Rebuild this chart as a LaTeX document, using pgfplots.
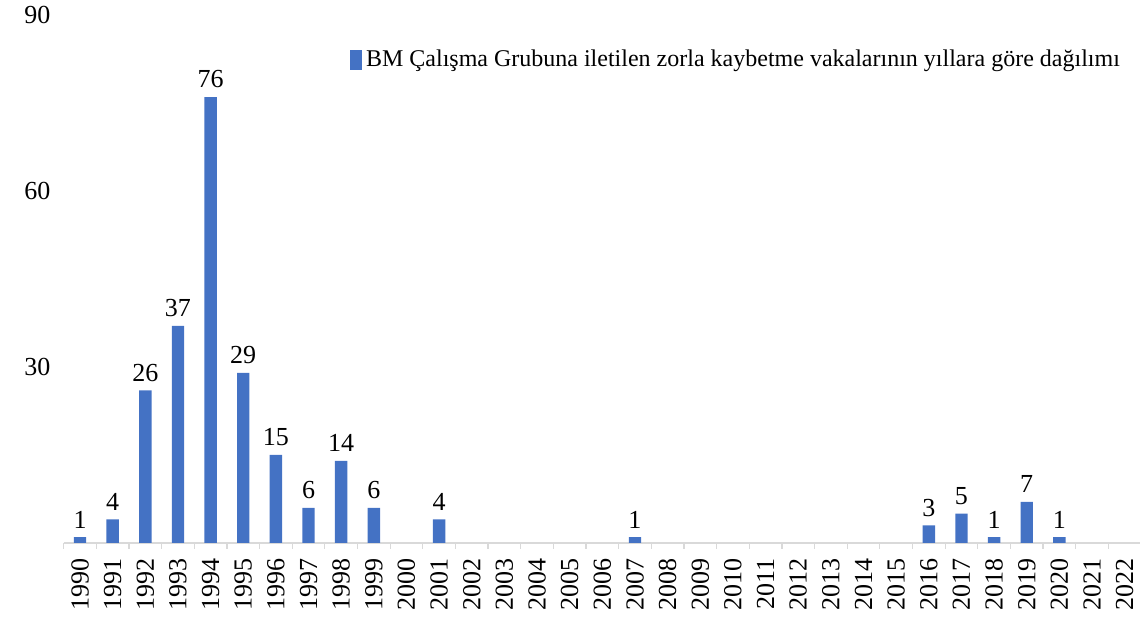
\documentclass[border=0pt]{standalone}
\usepackage{pgfplots}
\pgfplotsset{compat=1.18}
\usepackage{fontspec}
\setmainfont{Liberation Serif}
\definecolor{barblue}{HTML}{4472C4}
\definecolor{gridgray}{HTML}{EBEBEB}
\definecolor{axisgray}{HTML}{D9D9D9}
\begin{document}
\begin{tikzpicture}
\begin{axis}[
  at={(0,0)}, anchor=south west,
  scale only axis, width=538.7pt, height=264pt,
  xmin=-0.5, xmax=32.5, ymin=0, ymax=90,
  axis line style={draw=none},
  axis x line*=bottom, axis y line=none,
  ytick={30,60,90},
  ymajorgrids, grid style={gridgray, line width=0.6pt},
  xtick={0,...,32},
  xticklabels={1990,1991,1992,1993,1994,1995,1996,1997,1998,1999,2000,2001,2002,2003,2004,2005,2006,2007,2008,2009,2010,2011,2012,2013,2014,2015,2016,2017,2018,2019,2020,2021,2022},
  x tick label style={rotate=90, anchor=east, font=\fontsize{13}{13}\selectfont, xshift=-4pt},
  minor xtick={-0.5,0.5,...,32.5},
  major tick length=0pt, minor tick length=3pt, tick align=outside,
  minor tick style={axisgray, line width=0.6pt},
  every tick label/.append style={black},
  /pgf/number format/assume math mode=true,
  clip=false,
  legend style={draw=none, fill=none, at={(0.990,0.915)}, anchor=east, font=\fontsize{12}{12}\selectfont},
  legend image code/.code={\fill[barblue] (0.5pt,-5pt) rectangle (6.5pt,5pt);},
]
\draw[axisgray, line width=0.8pt] (axis cs:-0.5,0) -- (axis cs:32.5,0);
\addplot[ybar, bar width=6.2pt, fill=barblue, draw=none,
  nodes near coords, every node near coord/.append style={font=\fontsize{13}{13}\selectfont, black, yshift=1pt}]
coordinates {
(0,1) (1,4) (2,26) (3,37) (4,76) (5,29) (6,15) (7,6) (8,14) (9,6) (11,4) (17,1) (26,3) (27,5) (28,1) (29,7) (30,1)
};
\addlegendentry{BM Çalışma Grubuna iletilen zorla kaybetme vakalarının yıllara göre dağılımı}
\end{axis}
\foreach \v/\y in {30/88, 60/176, 90/264} {
  \node[anchor=east, font=\fontsize{13}{13}\selectfont, inner sep=0pt] at (-6.5pt,\y pt) {\v};
}
\pgfresetboundingbox
\path[use as bounding box] (-31.85pt,-39pt) rectangle (538.2pt,271.5pt);
\end{tikzpicture}
\end{document}
